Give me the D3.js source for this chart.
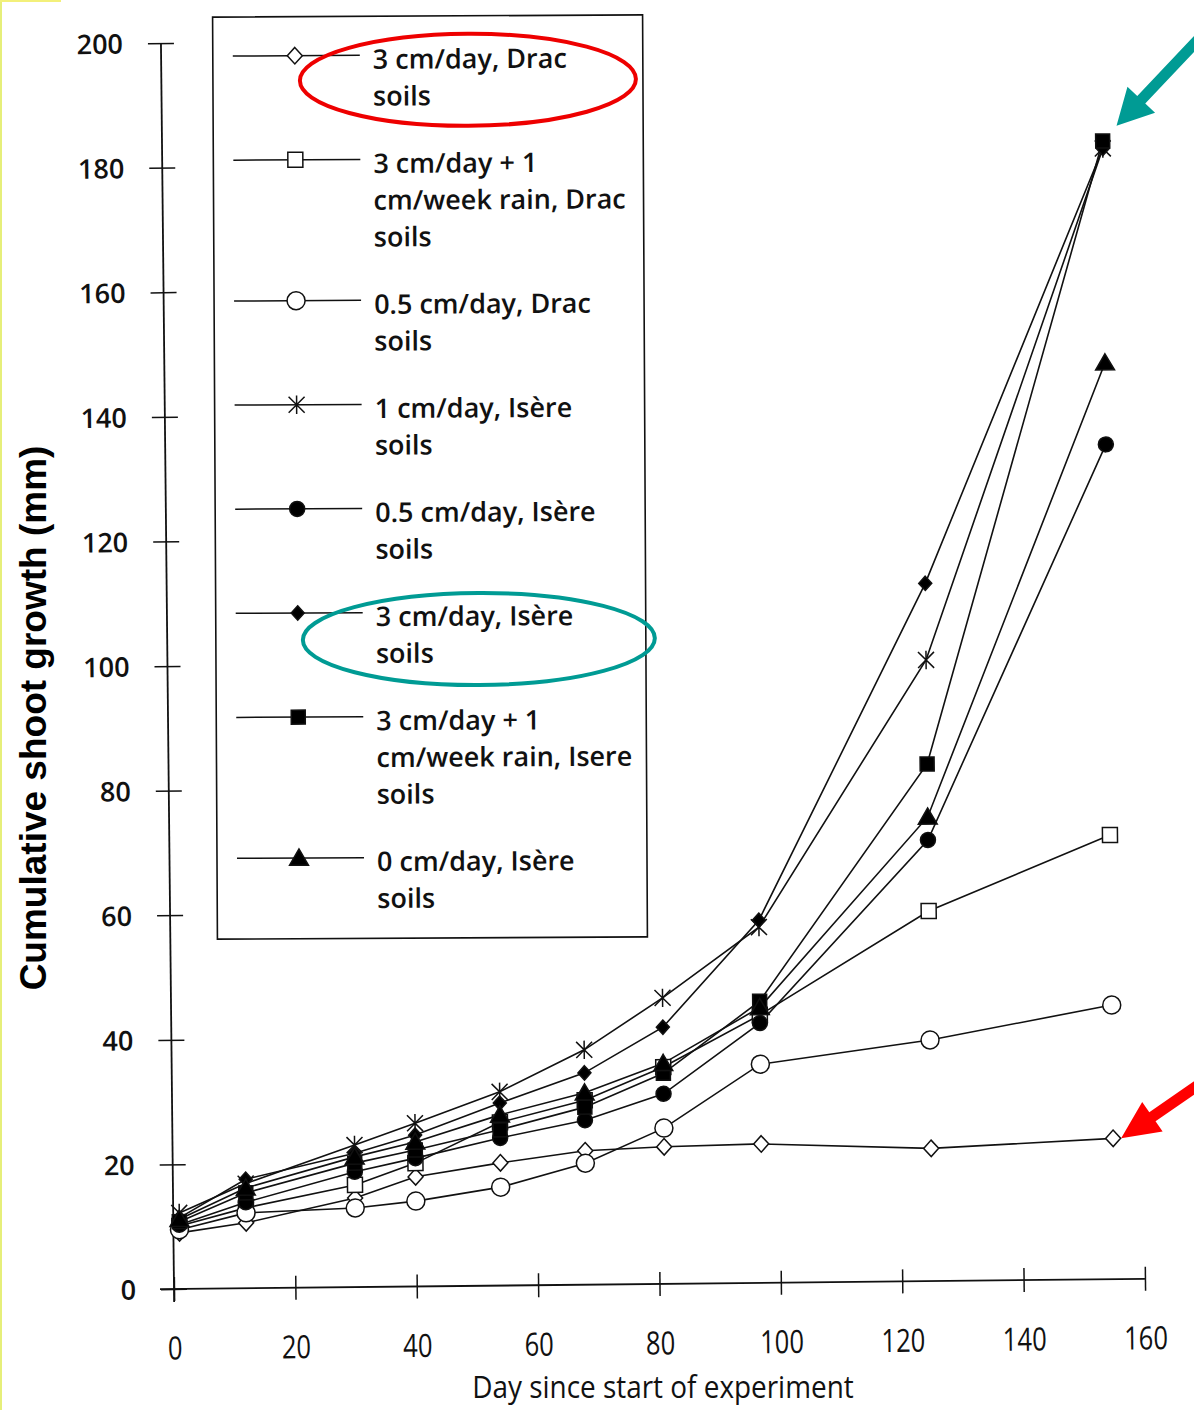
<!DOCTYPE html>
<html>
<head>
<meta charset="utf-8">
<script src="https://cdn.jsdelivr.net/npm/d3@7"></script>
<style>
  html, body { margin: 0; padding: 0; background: #fff; }
  svg { display: block; }
</style>
</head>
<body>
<svg id="chart" width="1194" height="1410"></svg>
<script>
// measurement days and cumulative shoot growth (mm), one array per treatment
const days = [1, 12, 30, 40, 54, 68, 81, 97, 125, 155];
const drac3 = [9.0, 10.5, 14.3, 17.6, 19.7, 21.5, 22.0, 22.3, 21.3, 22.6];
const drac3Rain = [10.1, 12.9, 16.4, 19.8, 26.2, 29.6, 34.8, 43.0, 59.4, 71.3];
const drac05 = [9.5, 12.1, 12.7, 13.7, 15.8, 19.5, 25.0, 35.1, 38.7, 44.0];
const isere1 = [12.2, 16.8, 22.8, 26.2, 31.1, 37.7, 45.9, 57.1, 99.7, 181.5];
const isere05 = [10.3, 13.8, 18.5, 20.6, 23.7, 26.4, 30.5, 41.7, 70.8, 134.0];
const isere3 = [11.4, 17.5, 21.5, 24.3, 29.3, 34.0, 41.2, 58.2, 112.0, 181.5];
const isere3Rain = [10.8, 15.3, 19.9, 21.9, 25.0, 28.5, 33.8, 45.2, 83.0, 182.7];
const isere0 = [11.2, 16.1, 20.9, 23.2, 27.4, 30.8, 35.4, 44.2, 74.5, 147.1];

const legendLabels = [
  ["3 cm/day, Drac", "soils"],
  ["3 cm/day + 1", "cm/week rain, Drac", "soils"],
  ["0.5 cm/day, Drac", "soils"],
  ["1 cm/day, Isère", "soils"],
  ["0.5 cm/day, Isère", "soils"],
  ["3 cm/day, Isère", "soils"],
  ["3 cm/day + 1", "cm/week rain, Isere", "soils"],
  ["0 cm/day, Isère", "soils"]
];
const seriesValues = [drac3, drac3Rain, drac05, isere1, isere05, isere3, isere3Rain, isere0];

const xTicks = [0, 20, 40, 60, 80, 100, 120, 140, 160];
const yTicks = [0, 20, 40, 60, 80, 100, 120, 140, 160, 180, 200];
const xTitle = "Day since start of experiment";
const yTitle = "Cumulative shoot growth (mm)";

// marker shapes, size = radius in px
const shapes = {
  diamond: { draw(ctx, r) { ctx.moveTo(0, -r * 1.1); ctx.lineTo(r, 0); ctx.lineTo(0, r * 1.1); ctx.lineTo(-r, 0); ctx.closePath(); } },
  square: { draw(ctx, r) { ctx.rect(-r, -r, 2 * r, 2 * r); } },
  circle: { draw(ctx, r) { ctx.moveTo(r, 0); ctx.arc(0, 0, r, 0, 2 * Math.PI); } },
  star: { draw(ctx, r) { ctx.moveTo(-r, -r); ctx.lineTo(r, r); ctx.moveTo(r, -r); ctx.lineTo(-r, r); ctx.moveTo(0, -r * 1.15); ctx.lineTo(0, r * 1.15); } },
  triangle: { draw(ctx, r) { ctx.moveTo(0, -r); ctx.lineTo(r * 1.05, r * 0.8); ctx.lineTo(-r * 1.05, r * 0.8); ctx.closePath(); } }
};

const styles = [
  { shape: "diamond", r: 7.5, fill: "#fff" },
  { shape: "square", r: 7.5, fill: "#fff" },
  { shape: "circle", r: 9, fill: "#fff" },
  { shape: "star", r: 8, fill: "none" },
  { shape: "circle", r: 7.5, fill: "#000" },
  { shape: "diamond", r: 6.5, fill: "#000" },
  { shape: "square", r: 7, fill: "#000" },
  { shape: "triangle", r: 9, fill: "#000" }
];

const svg = d3.select("#chart");
const ink = "#111";

// scan edge
svg.append("line").attr("x1", 1).attr("x2", 1).attr("y1", 0).attr("y2", 1410)
  .attr("stroke", "#e6ef7a").attr("stroke-width", 2);
svg.append("line").attr("x1", 0).attr("x2", 61).attr("y1", 1).attr("y2", 1)
  .attr("stroke", "#f3f07a").attr("stroke-width", 2);

const x = d3.scaleLinear().domain([0, 160]).range([174, 1145]);
const y = d3.scaleLinear().domain([0, 200]).range([1289, 43]);

// the scanned figure sits slightly tilted
const plot = svg.append("g").attr("transform", `rotate(-0.6, ${x(0)}, ${y(0)})`);

// axes
const yAxis = plot.append("g").attr("transform", `translate(${x(0)},0)`)
  .call(d3.axisLeft(y).tickValues(yTicks).tickSize(13).tickSizeOuter(0).tickPadding(25));
yAxis.select(".domain").remove();
yAxis.selectAll(".tick line").attr("x1", 13).attr("stroke", ink).attr("stroke-width", 1.5);
yAxis.selectAll(".tick text").attr("font-family", "'Open Sans', sans-serif").attr("font-size", 27)
  .attr("font-weight", 600).attr("fill", ink).attr("dy", "0.36em");

const xAxis = plot.append("g").attr("transform", `translate(0,${y(0)})`)
  .call(d3.axisBottom(x).tickValues(xTicks).tickSize(12).tickSizeOuter(0));
xAxis.select(".domain").remove();
xAxis.selectAll(".tick line").attr("y1", -12).attr("stroke", ink).attr("stroke-width", 1.5);
xAxis.selectAll(".tick text").attr("font-family", "'Open Sans', sans-serif").attr("font-size", 32)
  .attr("fill", ink).attr("y", 59).attr("dy", "0.36em").attr("transform", "scale(0.8,1)");

plot.append("line").attr("x1", x(0)).attr("x2", x(0)).attr("y1", y(200)).attr("y2", y(0) + 13)
  .attr("stroke", ink).attr("stroke-width", 1.8);
plot.append("line").attr("x1", x(0) - 14).attr("x2", x(160)).attr("y1", y(0)).attr("y2", y(0))
  .attr("stroke", ink).attr("stroke-width", 1.8);

// series lines, then markers on top
const line = d3.line().x((d, i) => x(days[i])).y((d) => y(d));
plot.append("g").selectAll("path").data(seriesValues).join("path")
  .attr("d", line).attr("fill", "none").attr("stroke", ink).attr("stroke-width", 1.6);

const symbolFor = (style) => d3.symbol().type(shapes[style.shape]).size(style.r)();
seriesValues.forEach((values, s) => {
  const st = styles[s];
  plot.append("g").selectAll("path").data(values).join("path")
    .attr("transform", (d, i) => `translate(${x(days[i])},${y(d)})`)
    .attr("d", symbolFor(st))
    .attr("fill", st.fill).attr("stroke", ink).attr("stroke-width", 1.5);
});

// annotation arrows
function arrowPoints(tx, ty, angleDeg, len, headLen, headHalf, shaftHalf) {
  const a = angleDeg * Math.PI / 180;
  const ux = Math.cos(a), uy = Math.sin(a), nx = -uy, ny = ux;
  const p = (along, side) => [tx + ux * along + nx * side, ty + uy * along + ny * side];
  return [p(0, 0), p(headLen, headHalf), p(headLen, shaftHalf), p(len, shaftHalf),
    p(len, -shaftHalf), p(headLen, -shaftHalf), p(headLen, -headHalf)].map((q) => q.join(",")).join(" ");
}
const last = days.length - 1;
plot.append("polygon")
  .attr("points", arrowPoints(x(days[last]) + 14, y(isere3Rain[last]) - 15, -46, 140, 36, 19, 5.5))
  .attr("fill", "#009b94");
plot.append("polygon")
  .attr("points", arrowPoints(x(days[last]) + 8, y(drac3[last]), -34, 120, 38, 18, 5.5))
  .attr("fill", "#ff0000");

// axis titles
svg.append("text").attr("x", 663).attr("y", 1398).attr("text-anchor", "middle")
  .attr("font-family", "'Open Sans', sans-serif").attr("font-size", 31).attr("fill", ink)
  .attr("transform", "translate(663,0) scale(0.9,1) translate(-663,0)")
  .text(xTitle);
svg.append("text").attr("transform", "translate(46,718) rotate(-90)").attr("text-anchor", "middle")
  .attr("font-family", "'Liberation Sans', Arial, sans-serif").attr("font-weight", "bold")
  .attr("font-size", 37).attr("fill", "#000").text(yTitle);

// legend
const legend = svg.append("g").attr("transform", "rotate(-0.3, 430, 477)");
legend.append("rect").attr("x", 215).attr("y", 16).attr("width", 430).attr("height", 922)
  .attr("fill", "#fff").attr("stroke", ink).attr("stroke-width", 1.6);

const lineH = 36.8;
let rowY = 55;
const rowTops = legendLabels.map((lines) => {
  const top = rowY;
  rowY += lines.length * lineH + 30.5;
  return top;
});

legendLabels.forEach((lines, s) => {
  const ly = rowTops[s];
  const st = styles[s];
  const row = legend.append("g");
  row.append("line").attr("x1", 235).attr("x2", 362).attr("y1", ly).attr("y2", ly)
    .attr("stroke", ink).attr("stroke-width", 1.5);
  row.append("path").attr("transform", `translate(297,${ly})`).attr("d", symbolFor(st))
    .attr("fill", st.fill).attr("stroke", ink).attr("stroke-width", 1.5);
  row.append("text").attr("x", 375).attr("y", ly + 13.5)
    .attr("font-family", "'Open Sans', sans-serif").attr("font-size", 27).attr("font-weight", 600)
    .attr("fill", ink)
    .selectAll("tspan").data(lines).join("tspan")
    .attr("x", 375).attr("dy", (d, i) => (i === 0 ? 0 : lineH)).text((d) => d);
});

// highlight ellipses around two legend entries
legend.append("ellipse").attr("cx", 470).attr("cy", rowTops[0] + 25).attr("rx", 168).attr("ry", 46)
  .attr("fill", "none").attr("stroke", "#ee0000").attr("stroke-width", 4);
legend.append("ellipse").attr("cx", 478).attr("cy", rowTops[5] + 27).attr("rx", 176).attr("ry", 46)
  .attr("fill", "none").attr("stroke", "#009b94").attr("stroke-width", 4);
</script>
</body>
</html>
